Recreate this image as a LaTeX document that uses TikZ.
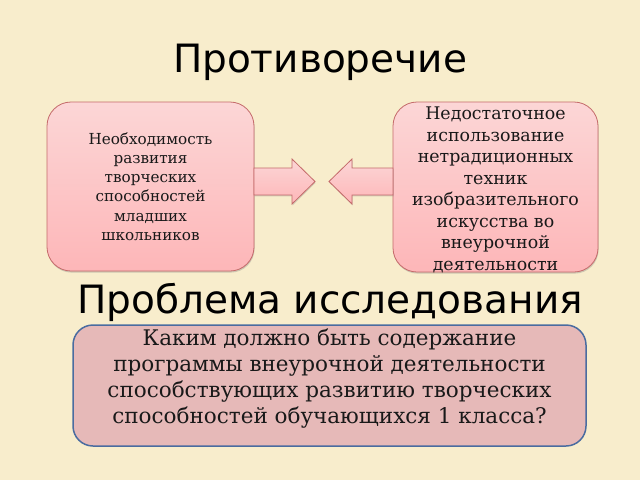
\documentclass[tikz,border=0pt]{standalone}
\usepackage{fontspec}
\setmainfont{DejaVu Serif}
\newfontfamily\titlefont{DejaVu Sans}
\usetikzlibrary{shadows}
\definecolor{paper}{HTML}{F8EDCC}
\definecolor{pinktop}{HTML}{FCD6D6}
\definecolor{pinkbot}{HTML}{FDB6B8}
\definecolor{pinkline}{HTML}{C46A6A}
\definecolor{rosefill}{HTML}{E6B9B8}
\definecolor{blueline}{HTML}{4A6CA0}

\begin{document}
\begin{tikzpicture}[x=1pt, y=-1pt,
		title_style/.style={font=\titlefont\fontsize{39}{46}\selectfont, text=black},
		box_style/.style={rectangle, rounded corners=24pt, draw=pinkline, line width=0.8pt,
			top color=pinktop, bottom color=pinkbot, align=center, inner sep=2pt,
			drop shadow={shadow xshift=0.6pt, shadow yshift=-1.6pt, opacity=0.35}},
		problem_style/.style={rectangle, rounded corners=20pt, draw=blueline, line width=1.5pt,
			fill=rosefill, align=center, inner sep=2pt},
		text_style/.style={align=center, inner sep=0pt, text=black!90},
		arrow_style/.style={draw=pinkline, line width=0.8pt, top color=pinktop, bottom color=pinkbot,
			drop shadow={shadow xshift=0.6pt, shadow yshift=-1.4pt, opacity=0.3}}]

	\fill[paper] (0,0) rectangle (640,480);
	\useasboundingbox (0,0) rectangle (640,480);

	\node[title_style] (t1) at (320,62) {Противоречие};

	\node[box_style, minimum width=207pt, minimum height=169pt] (lbox) at (150.5,186.5) {};
	\node[text_style, font=\fontsize{15.2}{19.3}\selectfont] (ltext) at (lbox.center)
		{Необходимость\\развития\\творческих\\способностей\\младших\\школьников};

	\node[box_style, minimum width=205pt, minimum height=170pt] (rbox) at (495.5,187) {};
	\node[text_style, font=\fontsize{17.4}{21.5}\selectfont] (rtext) at ([yshift=-3pt]rbox.center)
		{Недостаточное\\использование\\нетрадиционных\\техник\\изобразительного\\искусства во\\внеурочной\\деятельности};

	% block arrows
	\draw[arrow_style] (254,168) -- (292,168) -- (292,159) -- (315,181.5)
		-- (292,204) -- (292,195) -- (254,195) -- cycle;
	\draw[arrow_style] (393,168) -- (352,168) -- (352,159) -- (329,181.5)
		-- (352,204) -- (352,195) -- (393,195) -- cycle;

	\node[title_style] (t2) at (330,302) {Проблема исследования};

	\node[problem_style, minimum width=513pt, minimum height=121pt] (pbox) at (329.5,385.5) {};
	\node[text_style, font=\fontsize{21.5}{25.7}\selectfont] (ptext) at ([yshift=7pt]pbox.center)
		{Каким должно быть содержание\\программы внеурочной деятельности\\способствующих развитию творческих\\способностей обучающихся 1 класса?};
\end{tikzpicture}
\end{document}
